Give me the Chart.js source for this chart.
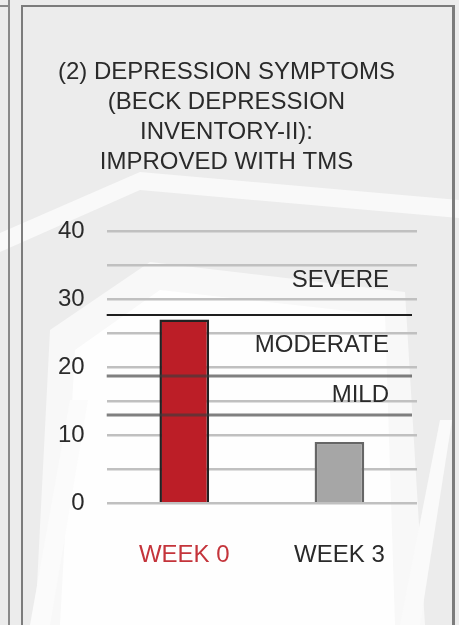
<!DOCTYPE html>
<html>
<head>
<meta charset="utf-8">
<script src="https://cdn.jsdelivr.net/npm/chart.js@4"></script>
<style>
  html, body { margin: 0; padding: 0; }
  body { width: 459px; height: 625px; overflow: hidden; background: #ececec; position: relative; }
  #bg { position: absolute; left: 0; top: 0; }
  .edge { position: absolute; background: #8a8a8a; }
  #panel { position: absolute; left: 21px; top: 5px; width: 429px; height: 700px;
           border: 2px solid #7c7c7c; border-right-width: 3px; }
  #wrap { position: absolute; left: 0; top: 0; width: 459px; height: 625px; }
</style>
</head>
<body>
<svg id="bg" width="459" height="625">
  <polygon points="0,233 140,172 459,200 459,218 140,190 0,252" fill="#f9f9f9"/>
  <polygon points="50,330 150,262 405,292 425,625 35,625" fill="#f8f8f8"/>
  <polygon points="75,350 160,290 385,315 395,625 60,625" fill="#fefefe"/>
  <polygon points="30,625 70,400 88,400 50,625" fill="#fbfbfb"/>
  <polygon points="400,625 440,420 452,420 420,625" fill="#fafafa"/>
</svg>
<div class="edge" style="left:8px;top:0;width:2px;height:625px"></div>
<div class="edge" style="left:0;top:5px;width:10px;height:2px"></div>
<div id="panel"></div>
<div id="wrap"><canvas id="c" width="459" height="625"></canvas></div>
<script>
const categories = ['WEEK 0', 'WEEK 3'];
const bdiScores = [27, 9];
const barFills = ['#bc1e27', '#a6a6a6'];
const barEdges = ['#222222', '#666666'];
const labelColors = ['#c4343b', '#2a2a2a'];

const cutoffs = [27.7, 18.7, 13];
const cutoffColors = ['#1e1e1e', 'rgba(60,60,60,0.65)', 'rgba(60,60,60,0.65)'];
const zoneNames = ['SEVERE', 'MODERATE', 'MILD'];
const zoneLabelAt = [32.8, 23.2, 15.9];

const titleLines = ['(2) DEPRESSION SYMPTOMS', '(BECK DEPRESSION', 'INVENTORY-II):', 'IMPROVED WITH TMS'];

const FONT = "'Liberation Sans', Arial, sans-serif";
const INK = '#2a2a2a';

// severity cut-off lines + zone names, drawn over the bars
const severityPlugin = {
  id: 'severity',
  afterDatasetsDraw(chart) {
    const { ctx, chartArea: a, scales: { y } } = chart;
    ctx.save();
    cutoffs.forEach((v, i) => {
      const py = Math.round(y.getPixelForValue(v));
      ctx.strokeStyle = cutoffColors[i];
      ctx.lineWidth = i === 0 ? 2 : 3;
      ctx.beginPath();
      ctx.moveTo(a.left, py);
      ctx.lineTo(a.right - 5, py);
      ctx.stroke();
    });
    ctx.font = '24px ' + FONT;
    ctx.fillStyle = INK;
    ctx.textAlign = 'right';
    ctx.textBaseline = 'middle';
    zoneNames.forEach((n, i) => {
      ctx.fillText(n, a.right - 28, y.getPixelForValue(zoneLabelAt[i]));
    });
    ctx.restore();
  },
};

new Chart(document.getElementById('c'), {
  type: 'bar',
  data: {
    labels: categories,
    datasets: [{
      data: bdiScores,
      backgroundColor: barFills,
      borderColor: barEdges,
      borderWidth: 2.5,
      barPercentage: 0.32,
      categoryPercentage: 1,
    }],
  },
  options: {
    responsive: false,
    animation: false,
    events: [],
    layout: { padding: { top: 57, left: 36, right: 42, bottom: 17 } },
    plugins: {
      legend: { display: false },
      tooltip: { enabled: false },
      title: {
        display: true,
        text: titleLines,
        color: INK,
        font: { family: FONT, size: 24, weight: 'normal', lineHeight: 1.25 },
        padding: { top: 0, bottom: 54 },
      },
    },
    scales: {
      x: {
        grid: { display: false, drawTicks: false },
        border: { display: false },
        ticks: {
          color: labelColors,
          font: { family: FONT, size: 24 },
          padding: 38,
        },
      },
      y: {
        min: 0,
        max: 40,
        border: { display: false },
        grid: { color: '#c0c0c0', lineWidth: 2.5, drawTicks: false },
        ticks: {
          stepSize: 5,
          color: INK,
          font: { family: FONT, size: 24 },
          padding: 22,
          callback: (v) => (v % 10 === 0 ? v : ''),
        },
      },
    },
  },
  plugins: [severityPlugin],
});
</script>
</body>
</html>
